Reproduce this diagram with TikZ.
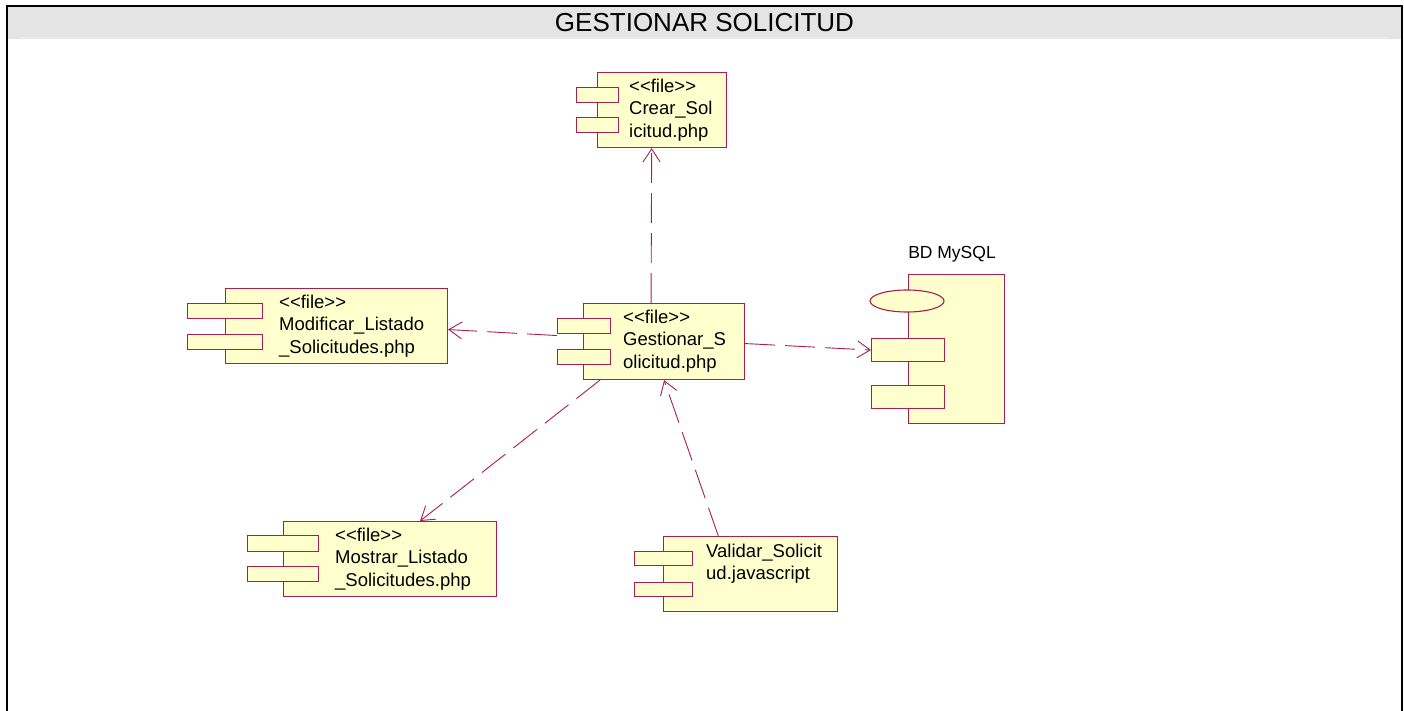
\documentclass[tikz,border=0pt]{standalone}
\usepackage{fontspec}
\setmainfont{Liberation Sans}[Ligatures=TeXOff]
\usetikzlibrary{arrows.meta,calc,shapes.geometric}

\definecolor{umlline}{RGB}{168,30,78}
\definecolor{umlfill}{RGB}{255,255,206}
\definecolor{headgrey}{RGB}{228,228,228}

\tikzset{
  comp/.style={draw=umlline, fill=umlfill, line width=1.1pt, inner sep=0pt, anchor=north west},
  port/.style={draw=umlline, fill=umlfill, line width=1.1pt, inner sep=0pt, anchor=north west},
  lbl/.style={inner sep=0pt, anchor=north west, align=left,
    font=\fontsize{18.5}{22.5}\selectfont},
  dep/.style={draw=umlline, line width=0.9pt, dash pattern=on 30pt off 10pt,
    -{Straight Barb[length=13pt,width=17pt,line width=0.9pt]}},
}

\begin{document}
\begin{tikzpicture}[x=1pt,y=-1pt]
\useasboundingbox (0,0) rectangle (1404,711);

% frame with title band
\fill[headgrey] (7,6) rectangle (1402,39);
\draw[white!94!black, line width=1pt] (21,37.5) -- (1387,37.5);
\draw[black, line width=2.4pt] (7,715) -- (7,6) -- (1402,6) -- (1402,715);
\node[font=\fontsize{26}{30}\selectfont] (title) at (704.5,23) {GESTIONAR SOLICITUD};

% Crear_Solicitud.php
\node[comp, minimum width=129pt, minimum height=75pt] (c) at (597,72) {};
\node[port, minimum width=42pt, minimum height=15pt] (c1) at (576,87) {};
\node[port, minimum width=42pt, minimum height=15pt] (c2) at (576,117) {};
\node[lbl] (ct) at (629,78.5) {<<file>>\\Crear\_Sol\\icitud.php};

% Modificar_Listado_Solicitudes.php
\node[comp, minimum width=222pt, minimum height=75pt] (m) at (225,288) {};
\node[port, minimum width=75pt, minimum height=15pt] (m1) at (187,303) {};
\node[port, minimum width=75pt, minimum height=15pt] (m2) at (187,334) {};
\node[lbl] (mt) at (279,294.5) {<<file>>\\Modificar\_Listado\\\_Solicitudes.php};

% Gestionar_Solicitud.php
\node[comp, minimum width=161pt, minimum height=76pt] (g) at (583,303) {};
\node[port, minimum width=53pt, minimum height=15pt] (g1) at (557,318) {};
\node[port, minimum width=53pt, minimum height=15pt] (g2) at (557,349) {};
\node[lbl] (gt) at (623,309.5) {<<file>>\\Gestionar\_S\\olicitud.php};

% BD MySQL
\node[font=\fontsize{17.5}{20}\selectfont] (bdt) at (952,254) {BD MySQL};
\node[comp, minimum width=96pt, minimum height=149pt] (bd) at (908,274) {};
\node[draw=umlline, fill=umlfill, line width=1.1pt, ellipse, inner sep=0pt,
  minimum width=74pt, minimum height=22pt] (bde) at (907,301) {};
\node[port, minimum width=73pt, minimum height=23pt] (b1) at (871,338) {};
\node[port, minimum width=73pt, minimum height=23pt] (b2) at (871,385) {};

% Mostrar_Listado_Solicitudes.php
\node[comp, minimum width=213pt, minimum height=75pt] (s) at (283,521) {};
\node[port, minimum width=71pt, minimum height=16pt] (s1) at (247,535) {};
\node[port, minimum width=71pt, minimum height=15pt] (s2) at (247,566) {};
\node[lbl] (st) at (335,527.5) {<<file>>\\Mostrar\_Listado\\\_Solicitudes.php};

% Validar_Solicitud.javascript
\node[comp, minimum width=174pt, minimum height=75pt] (v) at (663,536) {};
\node[port, minimum width=58pt, minimum height=14pt] (v1) at (634,551) {};
\node[port, minimum width=58pt, minimum height=14pt] (v2) at (634,582) {};
\node[lbl] (vt) at (706,543.5) {Validar\_Solicit\\ud.javascript};

% dependencies
\draw[dep] ($(g.north west)!0.42!(g.north east)$) -- ($(c.south west)!0.42!(c.south east)$);
\draw[dep] ($(g.west)+(-26,-6)$) -- ($(m.east)+(0,3.5)$);
\draw[dep] ($(g.east)+(0,2)$) -- (b1.west);
\draw[dep] ($(g.south west)!0.105!(g.south east)$) -- ($(s.north west)!0.64!(s.north east)$);
\draw[dep] ($(v.north west)!0.316!(v.north east)$) -- (g.south);
\end{tikzpicture}
\end{document}
